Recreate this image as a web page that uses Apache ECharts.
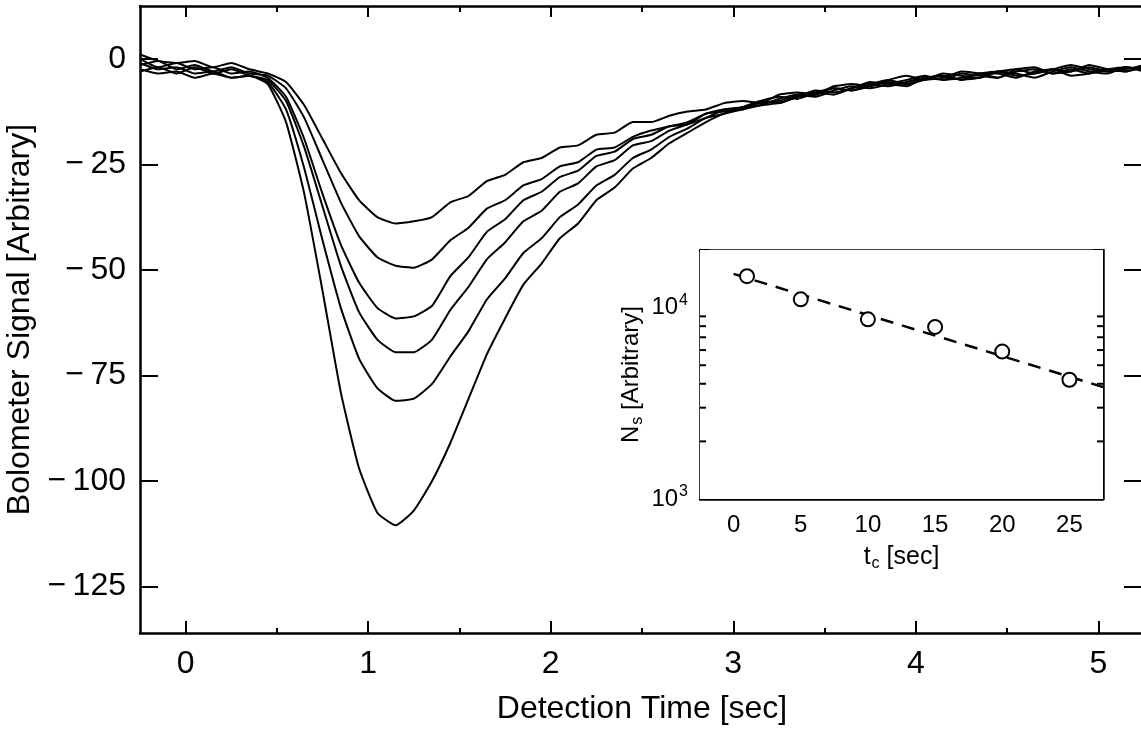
<!DOCTYPE html>
<html><head><meta charset="utf-8">
<script src="https://cdn.jsdelivr.net/npm/echarts@6/dist/echarts.min.js"></script>
<style>html,body{margin:0;padding:0;background:#fff}#c{width:1141px;height:734px}</style>
</head><body><div id="c"></div>
<script>
// Main panel: detection time grid (sec)
const mainT = [-0.25,-0.15,-0.05,0.05,0.15,0.25,0.35,0.45,0.55,0.65,0.75,0.85,0.95,1.05,1.15,1.25,1.35,1.45,1.55,1.65,1.75,1.85,1.95,2.05,2.15,2.25,2.35,2.45,2.55,2.65,2.75,2.85,2.95,3.05,3.15,3.25,3.35,3.45,3.55,3.65,3.75,3.85,3.95,4.05,4.15,4.25,4.35,4.45,4.55,4.65,4.75,4.85,4.95,5.05,5.15,5.25];
const signal1 = [1,-0.5,-1,-0.5,-2,-1,-2.5,-3.5,-5.5,-11,-19,-27,-33.5,-37.5,-39,-38.5,-37.5,-34,-32.5,-29,-27.5,-24.5,-23.5,-21,-20.5,-18,-17.5,-15,-15,-13.5,-12.5,-12,-10.5,-10,-10.5,-8.5,-8,-8.5,-6.5,-6,-6.5,-5,-4,-5,-4.5,-3,-3.5,-4.5,-2.5,-2,-3.5,-3,-1.5,-2.5,-3,-1.5];
const signal2 = [-1.5,-0.5,-2.5,-1.5,-3,-2,-3.5,-4,-7,-14,-24,-34,-42,-47,-49,-49.5,-47.5,-43,-40,-35.5,-33.5,-30,-28.5,-25.5,-24.5,-21.5,-21,-18.5,-17,-16,-15,-13,-12.5,-11.5,-10,-10.5,-9,-7.5,-8,-7,-5.5,-6,-6.5,-4.5,-4,-5,-4.5,-3,-3.5,-4.5,-3,-2,-3,-3.5,-2,-2.5];
const signal3 = [0,-2,-1,-2.5,-2,-3.5,-3,-4.5,-9,-19,-32,-44,-53,-59,-61.5,-61,-58.5,-51.5,-47,-41,-38,-33.5,-31.5,-28,-26.5,-23,-22,-19,-18,-16,-15.5,-13,-12,-12,-10,-9,-9.5,-8,-7,-7.5,-6,-5,-6,-5,-3.5,-4,-4.5,-3,-2.5,-3.5,-2.5,-1.5,-2.5,-3,-2,-2.5];
const signal4 = [-3,-2,-3.5,-2,-3.5,-2.5,-4,-5,-10,-21,-35,-49,-60,-66.5,-69.5,-69.5,-66.5,-59.5,-54,-47.5,-43.5,-38.5,-36,-31.5,-29.5,-25.5,-24,-20.5,-19.5,-17,-15.5,-14,-12,-11.5,-11,-9.5,-8.5,-9,-7.5,-6.5,-7,-6,-5,-4,-5,-4.5,-3.5,-3,-4,-3.5,-2.5,-4,-3.5,-2.5,-3,-2];
const signal5 = [-2.5,-3.5,-3,-4.5,-3.5,-4.5,-4,-5.5,-12,-26,-43,-59,-71,-78,-81,-80.5,-77,-70.5,-64.5,-57,-52,-46,-42.5,-37.5,-34.5,-30,-27.5,-23.5,-21.5,-18.5,-16.5,-14,-13,-11.5,-10.5,-10,-8.5,-8,-8.5,-7,-6,-6.5,-5.5,-4.5,-5,-3.5,-4,-4.5,-3,-2.5,-3.5,-2.5,-3.5,-2.5,-2,-3];
const signal6 = [-1,-2.5,-2,-3.5,-3,-4.5,-4,-6,-15,-32,-55,-79,-97,-107.5,-110.5,-107,-100,-91,-80.5,-70,-61.5,-53.5,-48.5,-42.5,-39,-33.5,-30.5,-26,-23.5,-20,-17.5,-15,-13,-12,-11,-10.5,-9,-8.5,-7,-7.5,-6.5,-5.5,-6,-4.5,-4,-5,-3.5,-3.5,-4.5,-3,-2.5,-3,-2,-3,-2.5,-1.5];
const mainXTicks = [0,1,2,3,4,5];
const mainXMinorTicks = [0.5,1.5,2.5,3.5,4.5];
const mainYTicks = [-125,-100,-75,-50,-25,0];

// Inset: N_s vs t_c
const insetT = [1,5,10,15,20,25];
const insetN = [14600,11050,8690,7930,5895,4200];
const fitT = [0,27.5];
const fitN = [15000,3850];
const insetXTicks = [0,5,10,15,20,25];
const insetMinorY = [2000,3000,4000,5000,6000,7000,8000,9000];

const FONT = '"Liberation Sans", Arial, sans-serif';
const X0 = -0.25, X1 = 5.25, Y0 = -136, Y1 = 12.5;
const IX0 = -2.5, IX1 = 27.5;

const line2 = {show:true, onZero:false, lineStyle:{color:'#000', width:2.5}};
const noLine = {show:false, onZero:false};
function tick(vals, len, w){ return {show:true, inside:true, length:len, customValues:vals, lineStyle:{color:'#000', width:w||2}}; }

const chart = echarts.init(document.getElementById('c'), null, {renderer:'canvas'});
const mainSignals = [signal1, signal2, signal3, signal4, signal5, signal6];

chart.setOption({
  animation:false,
  backgroundColor:'#fff',
  grid:[
    {left:140, top:6, width:1004, height:627, show:false, outerBoundsMode:'none', containLabel:false},
    {left:700, top:250, width:403, height:249, show:true, backgroundColor:'#fff', borderWidth:0, z:5, outerBoundsMode:'none', containLabel:false}
  ],
  xAxis:[
    {gridIndex:0, type:'value', min:X0, max:X1, position:'bottom', axisLine:line2,
     axisTick:tick(mainXTicks,12), splitLine:{show:false},
     axisLabel:{customValues:mainXTicks, fontSize:32, fontFamily:FONT, color:'#000', margin:15},
     name:'Detection Time [sec]', nameLocation:'middle', nameGap:60,
     nameTextStyle:{fontSize:32, fontFamily:FONT, color:'#000'}},
    {gridIndex:0, type:'value', min:X0, max:X1, position:'bottom', axisLine:noLine,
     axisTick:tick(mainXMinorTicks,5), axisLabel:{show:false}, splitLine:{show:false}},
    {gridIndex:0, type:'value', min:X0, max:X1, position:'top', axisLine:line2,
     axisTick:tick(mainXTicks,11), axisLabel:{show:false}, splitLine:{show:false}},
    {gridIndex:0, type:'value', min:X0, max:X1, position:'top', axisLine:noLine,
     axisTick:tick(mainXMinorTicks,6), axisLabel:{show:false}, splitLine:{show:false}},
    {gridIndex:1, type:'value', min:IX0, max:IX1, position:'bottom', axisLine:line2,
     axisTick:tick(insetXTicks,6), splitLine:{show:false},
     axisLabel:{customValues:insetXTicks, fontSize:24, fontFamily:FONT, color:'#000', margin:14},
     name:'{m|t}{s|c}{m| [sec]}', nameLocation:'middle', nameGap:43,
     nameTextStyle:{fontFamily:FONT, color:'#000', rich:{
       m:{fontSize:25, fontFamily:FONT, color:'#000'},
       s:{fontSize:16, fontFamily:FONT, color:'#000', padding:[14,0,0,1]}}}},
    {gridIndex:1, type:'value', min:IX0, max:IX1, position:'top', axisLine:line2,
     axisTick:tick(insetXTicks,6), axisLabel:{show:false}, splitLine:{show:false}}
  ],
  yAxis:[
    {gridIndex:0, type:'value', min:Y0, max:Y1, position:'left', axisLine:line2,
     axisTick:tick(mainYTicks,18), splitLine:{show:false},
     axisLabel:{customValues:mainYTicks, fontSize:32, fontFamily:FONT, color:'#000', margin:14,
       formatter:v => v < 0 ? '\u2212\u2009' + Math.abs(v) : String(v)},
     name:'Bolometer Signal [Arbitrary]', nameLocation:'middle', nameGap:96,
     nameTextStyle:{fontSize:32, fontFamily:FONT, color:'#000'}},
    {gridIndex:0, type:'value', min:Y0, max:Y1, position:'right', axisLine:line2,
     axisTick:tick(mainYTicks,20), axisLabel:{show:false}, splitLine:{show:false}},
    {gridIndex:1, type:'log', logBase:10, min:1000, max:20000, position:'left', axisLine:line2,
     axisTick:{show:true, inside:true, length:10, lineStyle:{color:'#000', width:2}}, splitLine:{show:false},
     axisLabel:{fontFamily:FONT, color:'#000', margin:12,
       formatter:v => { const e = Math.round(Math.log10(v)); return Math.abs(Math.pow(10,e)-v) < 1e-6*v ? '{b|10}{p|' + e + '}' : ''; },
       rich:{b:{fontSize:24, fontFamily:FONT, color:'#000'}, p:{fontSize:16, fontFamily:FONT, color:'#000', padding:[0,0,14,1]}}},
     name:'{m|N}{s|s}{m| [Arbitrary]}', nameLocation:'middle', nameGap:54,
     nameTextStyle:{fontFamily:FONT, color:'#000', rich:{
       m:{fontSize:24, fontFamily:FONT, color:'#000'},
       s:{fontSize:16, fontFamily:FONT, color:'#000', padding:[14,0,0,1]}}}},
    {gridIndex:1, type:'log', logBase:10, min:1000, max:20000, position:'right', axisLine:line2,
     axisTick:{show:true, inside:true, length:10, lineStyle:{color:'#000', width:2}}, axisLabel:{show:false}, splitLine:{show:false}}
  ],
  series: mainSignals.map((s, k) => ({
      type:'line', xAxisIndex:0, yAxisIndex:0, name:'signal'+(k+1),
      data: mainT.map((t,i)=>[t, s[i]]), showSymbol:false, symbol:'none', smooth:0.15,
      lineStyle:{color:'#000', width:2}, z:2
    })).concat([
    {type:'line', xAxisIndex:4, yAxisIndex:2, data: fitT.map((t,i)=>[t, fitN[i]]), symbol:'none',
     lineStyle:{color:'#000', width:2.5, type:[13,9]}, z:10},
    {type:'scatter', xAxisIndex:4, yAxisIndex:2, data: insetT.map((t,i)=>[t, insetN[i]]),
     symbol:'circle', symbolSize:14, itemStyle:{color:'#fff', opacity:1, borderColor:'#000', borderWidth:2}, z:11},
    {type:'custom', xAxisIndex:4, yAxisIndex:2, data: insetMinorY.map(v=>[IX0, v]), z:12, silent:true,
     encode:{x:0, y:1},
     renderItem:(params, api) => {
       const v = api.value(1);
       const L = api.coord([IX0, v]), R = api.coord([IX1, v]);
       return {type:'group', children:[
         {type:'line', shape:{x1:L[0], y1:L[1], x2:L[0]+6, y2:L[1]}, style:{stroke:'#000', lineWidth:2}},
         {type:'line', shape:{x1:R[0]-6, y1:R[1], x2:R[0], y2:R[1]}, style:{stroke:'#000', lineWidth:2}}
       ]};
     }}
  ])
});
</script></body></html>
